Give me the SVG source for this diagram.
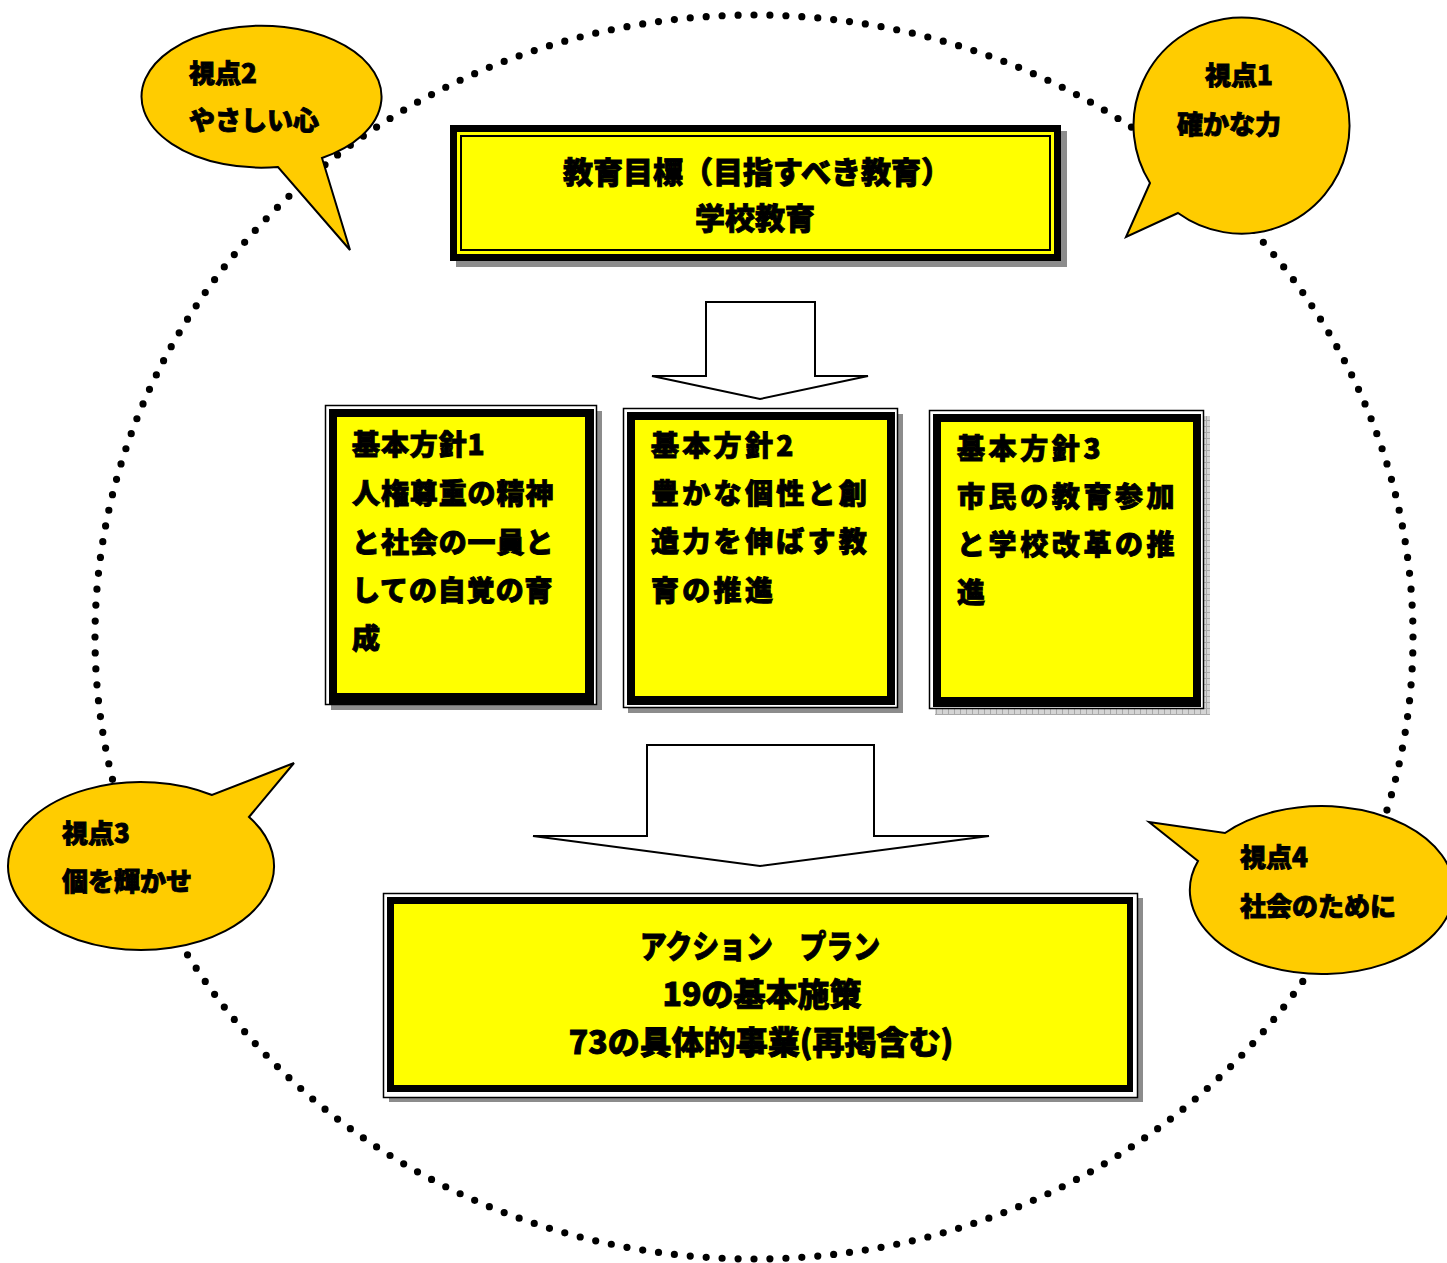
<svg xmlns="http://www.w3.org/2000/svg" width="1447" height="1263" viewBox="0 0 1447 1263">
<style>
.t{font-family:"Noto Sans CJK JP","Noto Sans CJK SC",sans-serif;font-weight:900;fill:#000;stroke:#000;stroke-width:0.9;paint-order:stroke}
.c{text-anchor:middle}
.bubble{fill:#FFCC00;stroke:#000;stroke-width:2;stroke-linejoin:miter}
.arrow{fill:#fff;stroke:#000;stroke-width:2;stroke-linejoin:miter}
.shadow{fill:#8c8c8c}
.thin{fill:#fff;stroke:#000;stroke-width:1.5}
.band{fill:#000}
.yel{fill:#FFFF00}
</style>
<defs>
<pattern id="chk" width="6" height="6" patternUnits="userSpaceOnUse">
<rect width="6" height="6" fill="#d4d4d4"/>
<path d="M0 0.5H6M0.5 0V6" stroke="#a8a8a8" stroke-width="1"/>
</pattern>
</defs>
<rect width="1447" height="1263" fill="#fff"/>

<g id="connectors">
<ellipse cx="754" cy="637" rx="659" ry="622" fill="none" stroke="#000" stroke-width="7.2" stroke-linecap="round" pathLength="252" stroke-dasharray="0 1"/>
<polygon class="arrow" points="706,302 815,302 815,376 868,376 760,399 652,376 706,376"/>
<polygon class="arrow" points="647,745 874,745 874,836 989,836 760,866 533,836 647,836"/>
</g>

<g id="goal">
<rect class="shadow" x="456" y="131" width="611" height="136"/>
<rect class="band" x="450" y="125" width="611" height="136"/>
<rect class="yel" x="457" y="132" width="597" height="122"/>
<rect x="461" y="136" width="589" height="114" fill="none" stroke="#000" stroke-width="2"/>
<text class="t c" x="757" y="183" font-size="30">教育目標（目指すべき教育）</text>
<text class="t c" x="755" y="229" font-size="30">学校教育</text>
</g>

<g id="policy1">
<rect class="shadow" x="331" y="411" width="271" height="299"/>
<rect class="thin" x="325.5" y="405.5" width="271" height="299"/>
<rect class="band" x="329" y="409" width="265" height="295"/>
<rect class="yel" x="337" y="417" width="248" height="276"/>
<g class="t" font-size="28" letter-spacing="0.9">
<text x="352" y="455">基本方針1</text>
<text x="352" y="504">人権尊重の精神</text>
<text x="352" y="553">と社会の一員と</text>
<text x="352" y="601">しての自覚の育</text>
<text x="352" y="649">成</text>
</g>
</g>

<g id="policy2">
<rect class="shadow" x="628" y="414" width="275" height="299"/>
<rect class="thin" x="623.5" y="408.5" width="274" height="299"/>
<rect class="band" x="627" y="412" width="268" height="293"/>
<rect class="yel" x="635" y="420" width="252" height="276"/>
<g class="t" font-size="28" letter-spacing="3.3">
<text x="651" y="456">基本方針2</text>
<text x="651" y="504">豊かな個性と創</text>
<text x="651" y="552">造力を伸ばす教</text>
<text x="651" y="601">育の推進</text>
</g>
</g>

<g id="policy3">
<rect x="935" y="416" width="275" height="299" fill="url(#chk)"/>
<rect class="thin" x="929.5" y="410.5" width="274" height="298"/>
<rect class="band" x="933" y="414" width="268" height="293"/>
<rect class="yel" x="941" y="422" width="252" height="275"/>
<g class="t" font-size="28" letter-spacing="3.6">
<text x="957" y="459">基本方針3</text>
<text x="957" y="507">市民の教育参加</text>
<text x="957" y="555">と学校改革の推</text>
<text x="957" y="603">進</text>
</g>
</g>

<g id="actionplan">
<rect class="shadow" x="389" y="898" width="754" height="204"/>
<rect class="thin" x="383.5" y="893.5" width="754" height="204"/>
<rect class="band" x="387" y="897" width="746" height="195"/>
<rect class="yel" x="394" y="904" width="733" height="181"/>
<g class="t c" font-size="32">
<text x="760" y="958" textLength="240" lengthAdjust="spacingAndGlyphs">アクション　プラン</text>
<text x="762" y="1006">19の基本施策</text>
<text x="761" y="1054">73の具体的事業(再掲含む)</text>
</g>
</g>

<g id="viewpoint2">
<path class="bubble" d="M278,167 A120,71 0 1,1 322,158 L350,250 Z"/>
<g class="t" font-size="26">
<text x="189" y="83">視点2</text>
<text x="189" y="130">やさしい心</text>
</g>
</g>

<g id="viewpoint1">
<path class="bubble" d="M1150,183 A108,108 0 1,1 1178,213 L1126,237 Z"/>
<g class="t" font-size="26">
<text x="1205" y="85">視点1</text>
<text x="1177" y="134">確かな力</text>
</g>
</g>

<g id="viewpoint3">
<path class="bubble" d="M249,817 A133,84 0 1,1 212,795 L294,763 Z"/>
<g class="t" font-size="26">
<text x="62" y="843">視点3</text>
<text x="62" y="891">個を輝かせ</text>
</g>
</g>

<g id="viewpoint4">
<path class="bubble" d="M1225,833 A132,84 0 1,1 1198,861 L1149,822 Z"/>
<g class="t" font-size="26">
<text x="1240" y="867">視点4</text>
<text x="1240" y="916">社会のために</text>
</g>
</g>
</svg>
